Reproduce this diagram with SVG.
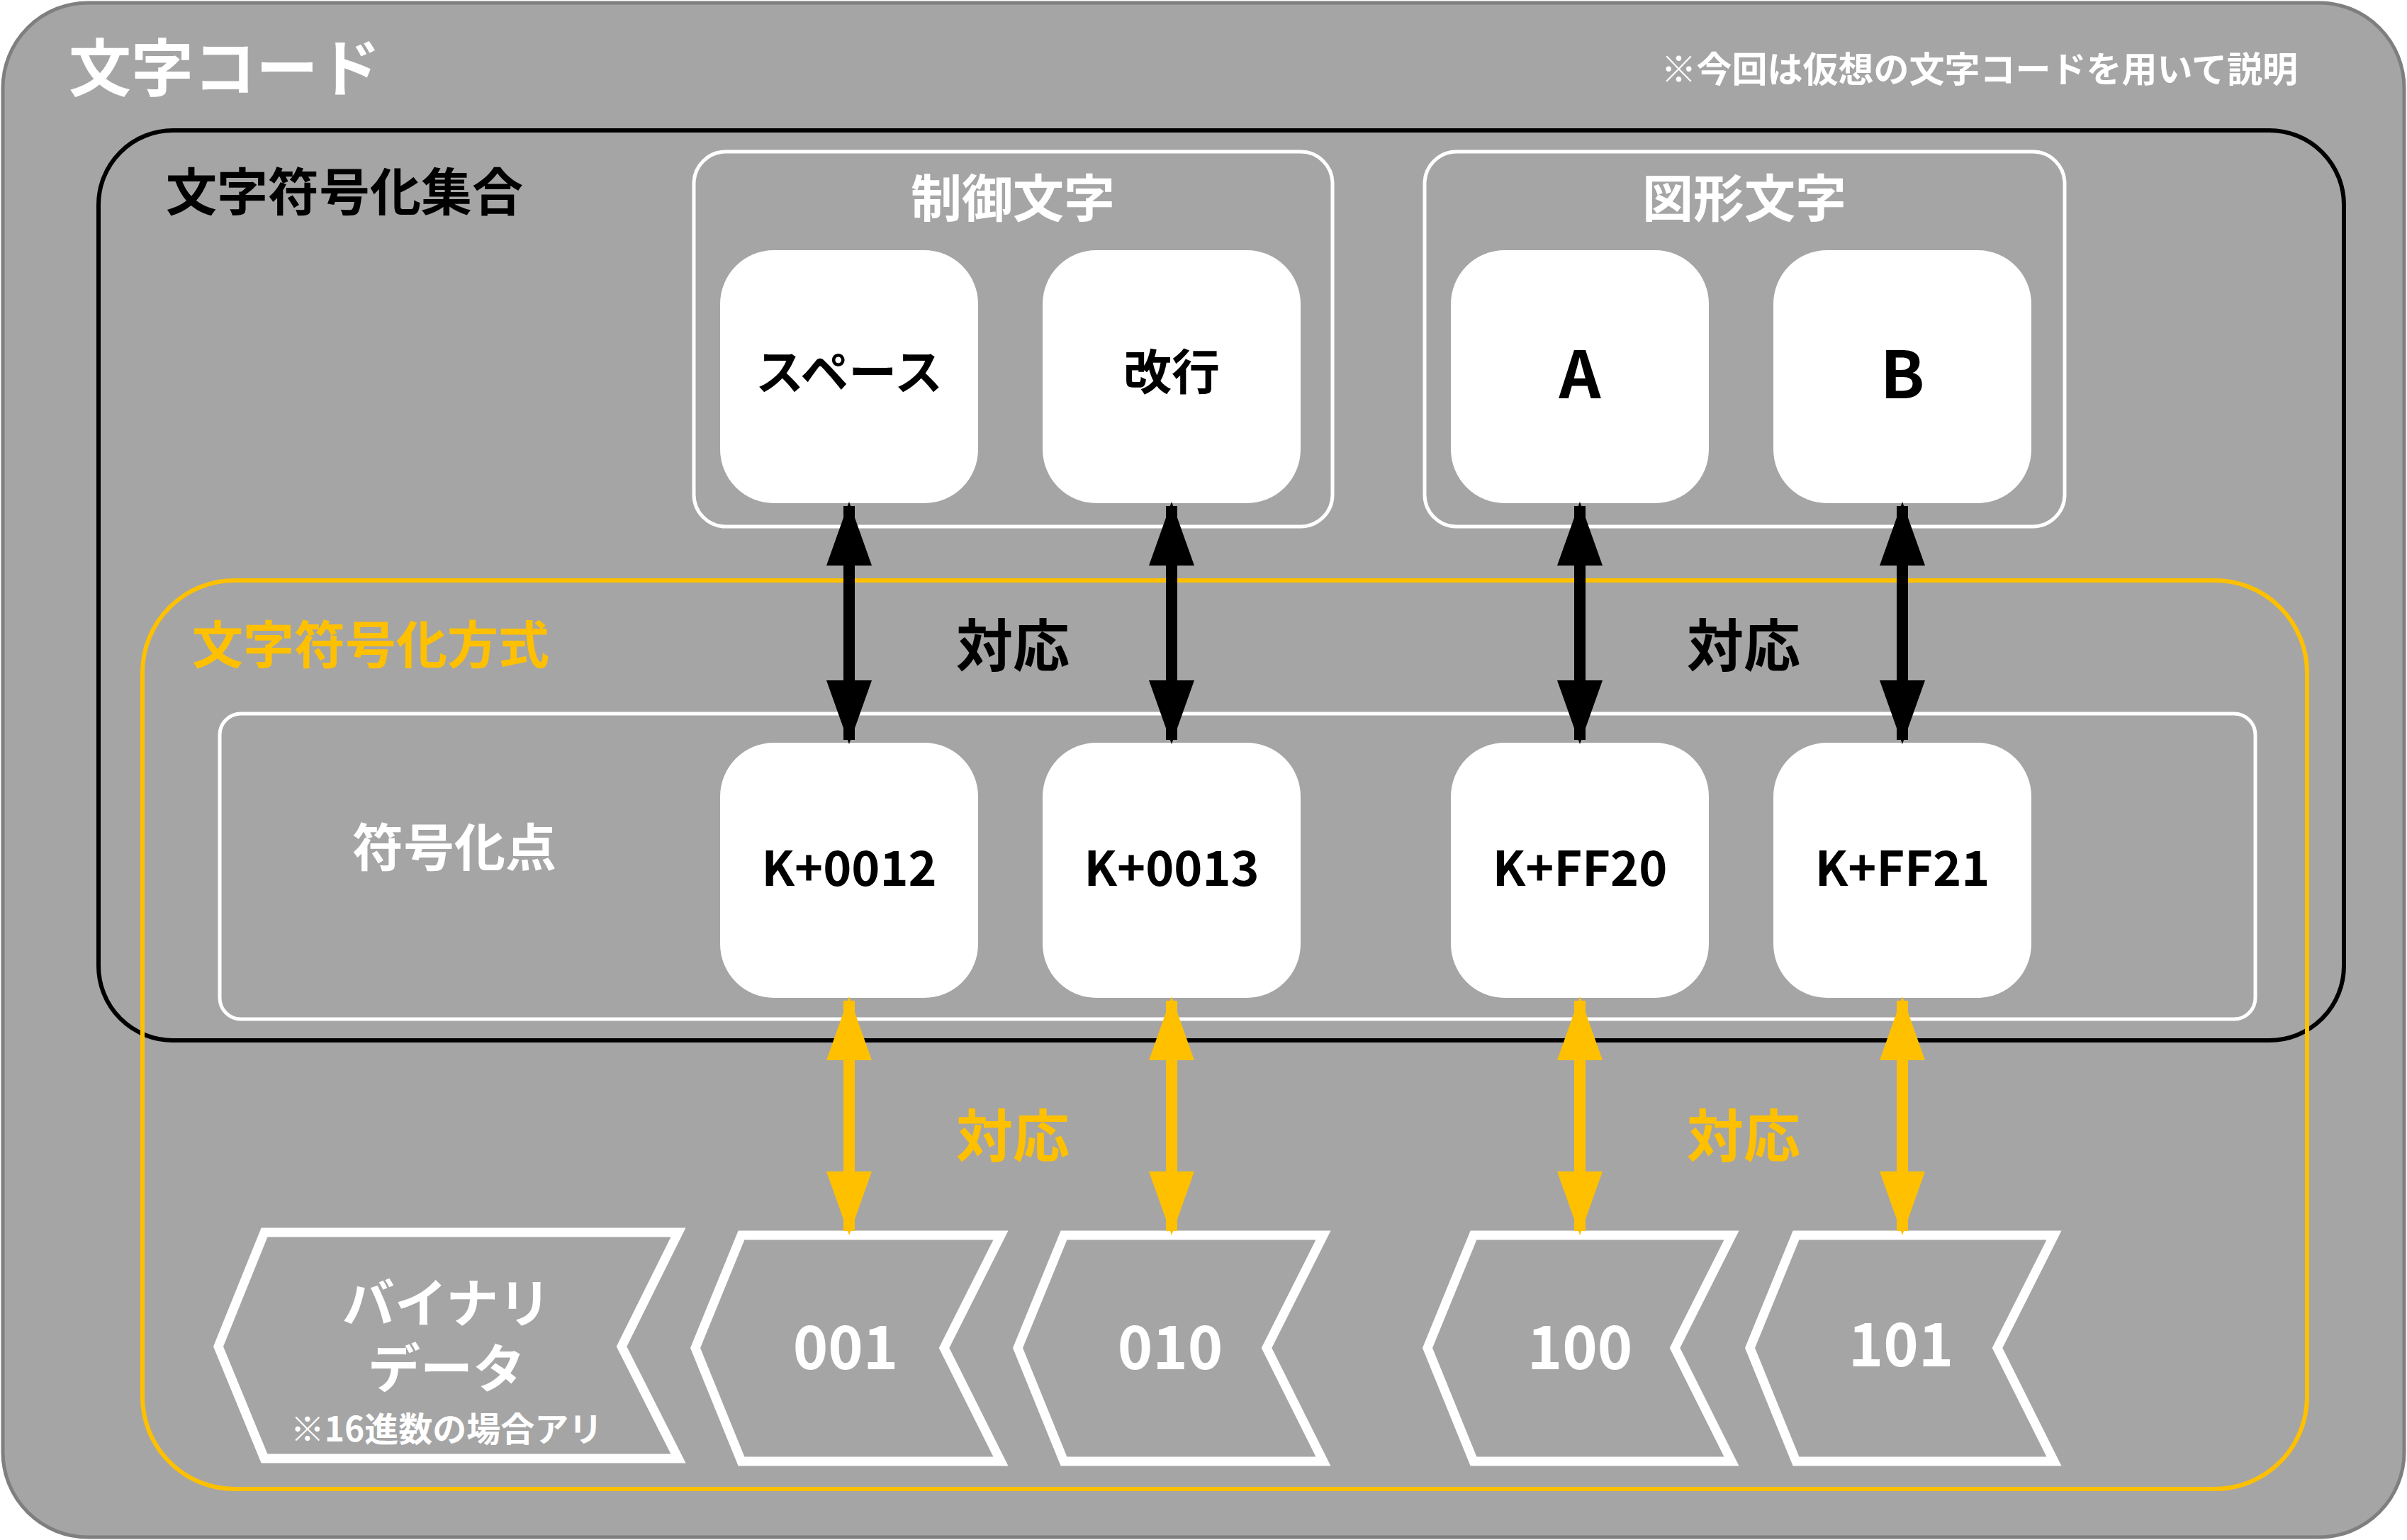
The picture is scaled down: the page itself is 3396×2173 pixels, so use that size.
<svg xmlns="http://www.w3.org/2000/svg" width="3396" height="2173" viewBox="0 0 3396 2173">
<style>
text{font-family:"Noto Sans CJK JP","Noto Sans",sans-serif;font-weight:bold}
.w{fill:#fff}.k{fill:#000}.y{fill:#ffc000}
.grp{fill:none;stroke:#fff;stroke-width:5}
.node{fill:#fff}
.chev{fill:none;stroke:#fff;stroke-width:13}
.nt{font-size:68px;text-anchor:middle;fill:#000}
.big{font-size:92px}
.ct{font-size:84px;text-anchor:middle;fill:#fff}
</style>
<defs>
<marker id="ak" markerUnits="userSpaceOnUse" markerWidth="90" markerHeight="64" refX="84" refY="32" viewBox="0 0 90 64" orient="auto-start-reverse"><path d="M0,0 L90,32 L0,64 Z" fill="#000"/></marker>
<marker id="ay" markerUnits="userSpaceOnUse" markerWidth="90" markerHeight="64" refX="84" refY="32" viewBox="0 0 90 64" orient="auto-start-reverse"><path d="M0,0 L90,32 L0,64 Z" fill="#ffc000"/></marker>
</defs>
<rect x="4" y="4" width="3388" height="2165" rx="120" fill="#a5a5a5" stroke="#7f7f7f" stroke-width="5"/>
<text x="97" y="128" class="w" font-size="88">文字コード</text>
<text x="3242" y="116" class="w" font-size="50" text-anchor="end">※今回は仮想の文字コードを用いて説明</text>
<g id="set"><rect x="139" y="184" width="3168" height="1284" rx="105" fill="none" stroke="#000" stroke-width="6"/>
<text x="234" y="297" class="k" font-size="72">文字符号化集合</text></g>
<g id="enc"><rect x="201" y="819" width="3054" height="1282" rx="130" fill="none" stroke="#ffc000" stroke-width="6"/>
<text x="271" y="936" class="y" font-size="72">文字符号化方式</text></g>
<g id="ctrl"><rect x="979" y="214" width="901" height="529" rx="45" class="grp"/>
<text x="1429" y="306" class="w" font-size="72" text-anchor="middle">制御文字</text></g>
<g id="graph"><rect x="2010" y="214" width="903" height="529" rx="45" class="grp"/>
<text x="2461" y="306" class="w" font-size="72" text-anchor="middle">図形文字</text></g>
<g id="points"><rect x="310" y="1007" width="2872" height="431" rx="30" class="grp"/>
<text x="641" y="1222" class="w" font-size="72" text-anchor="middle">符号化点</text></g>
<g id="n-space"><rect x="1016" y="353" width="364" height="357" rx="76" class="node"/><text x="1198" y="550" class="nt">スペース</text></g>
<g id="n-lf"><rect x="1471" y="353" width="364" height="357" rx="76" class="node"/><text x="1653" y="550" class="nt">改行</text></g>
<g id="n-a"><rect x="2047" y="353" width="364" height="357" rx="76" class="node"/><text x="2229" y="562" class="nt big">A</text></g>
<g id="n-b"><rect x="2502" y="353" width="364" height="357" rx="76" class="node"/><text x="2684" y="562" class="nt big">B</text></g>
<g id="c1"><rect x="1016" y="1048" width="364" height="360" rx="76" class="node"/><text x="1198" y="1250" class="nt">K+0012</text></g>
<g id="c2"><rect x="1471" y="1048" width="364" height="360" rx="76" class="node"/><text x="1653" y="1250" class="nt">K+0013</text></g>
<g id="c3"><rect x="2047" y="1048" width="364" height="360" rx="76" class="node"/><text x="2229" y="1250" class="nt">K+FF20</text></g>
<g id="c4"><rect x="2502" y="1048" width="364" height="360" rx="76" class="node"/><text x="2684" y="1250" class="nt">K+FF21</text></g>
<g id="bin"><path d="M373,1739 H957 L877,1900 L957,2058 H373 L308,1900 Z" class="chev"/>
<text x="630" y="1866" class="w" font-size="74" text-anchor="middle">バイナリ</text>
<text x="630" y="1958" class="w" font-size="74" text-anchor="middle">データ</text>
<text x="630" y="2034" class="w" font-size="48" text-anchor="middle">※16進数の場合アリ</text></g>
<g id="b1"><path d="M1046,1743 H1412 L1332,1902 L1412,2062 H1046 L981,1902 Z" class="chev"/><text x="1193" y="1932" class="ct">001</text></g>
<g id="b2"><path d="M1501,1743 H1867 L1787,1902 L1867,2062 H1501 L1436,1902 Z" class="chev"/><text x="1651" y="1932" class="ct">010</text></g>
<g id="b3"><path d="M2079,1743 H2443 L2363,1902 L2443,2062 H2079 L2014,1902 Z" class="chev"/><text x="2229" y="1932" class="ct">100</text></g>
<g id="b4"><path d="M2534,1743 H2898 L2818,1902 L2898,2062 H2534 L2469,1902 Z" class="chev"/><text x="2682" y="1928" class="ct">101</text></g>
<g id="connectors">
<g stroke="#000" stroke-width="16" marker-start="url(#ak)" marker-end="url(#ak)">
<line x1="1198" y1="714" x2="1198" y2="1044"/><line x1="1653" y1="714" x2="1653" y2="1044"/>
<line x1="2229" y1="714" x2="2229" y2="1044"/><line x1="2684" y1="714" x2="2684" y2="1044"/></g>
<g stroke="#ffc000" stroke-width="16" marker-start="url(#ay)" marker-end="url(#ay)">
<line x1="1198" y1="1412" x2="1198" y2="1737"/><line x1="1653" y1="1412" x2="1653" y2="1737"/>
<line x1="2229" y1="1412" x2="2229" y2="1737"/><line x1="2684" y1="1412" x2="2684" y2="1737"/></g>
<text x="1429" y="940" class="k" font-size="80" text-anchor="middle">対応</text>
<text x="2460" y="940" class="k" font-size="80" text-anchor="middle">対応</text>
<text x="1429" y="1632" class="y" font-size="80" text-anchor="middle">対応</text>
<text x="2460" y="1632" class="y" font-size="80" text-anchor="middle">対応</text>
</g>
</svg>
